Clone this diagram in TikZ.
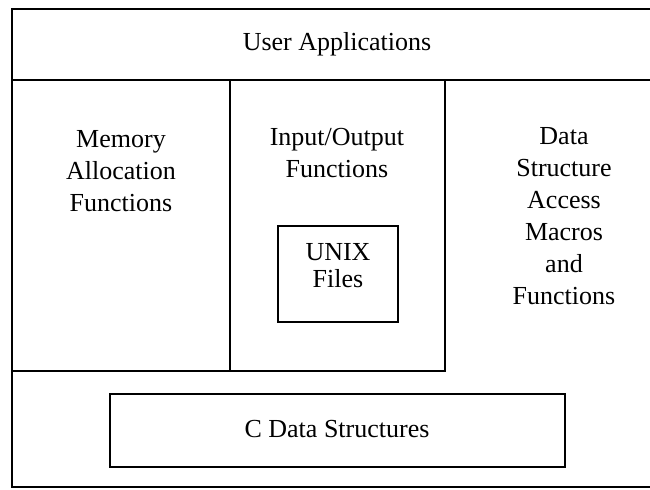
\documentclass[tikz,border=0pt]{standalone}
\usepackage{fontspec}
\setmainfont{Liberation Serif}

\begin{document}
\begin{tikzpicture}[x=0.02cm,y=-0.02cm,
        frame/.style={line width=1.6pt},
        inbox/.style={line width=0.8pt},
        lbl/.style={align=center,inner sep=0pt,font=\fontsize{14.8}{18.2}\selectfont},
        lbltight/.style={lbl,font=\fontsize{14.8}{15.4}\selectfont}]
        \useasboundingbox (0,0) rectangle (650,490);

        % outer frame (cut off at the right)
        \draw [frame] (650,9) -- (12,9) -- (12,487) -- (650,487);
        \draw [frame] (12,80) -- (650,80);
        \draw [frame] (12,371) -- (445,371) -- (445,80);
        \draw [frame] (230,80) -- (230,371);

        % inner boxes
        \draw [inbox] (278,226) rectangle (398,322);
        \draw [inbox] (110,394) rectangle (565,467);

        \node [lbl] (user) at (337,44) {User Applications};
        \node [lbl] (memory) at (121,171) {Memory\\Allocation\\Functions};
        \node [lbl] (io) at (337,153) {Input/Output\\Functions};
        \node [lbltight] (unix) at (338,266) {UNIX\\Files};
        \node [lbl] (access) at (564,216) {Data\\Structure\\Access\\Macros\\and\\Functions};
        \node [lbl] (cdata) at (337,429) {C Data Structures};

\end{tikzpicture}
\end{document}
